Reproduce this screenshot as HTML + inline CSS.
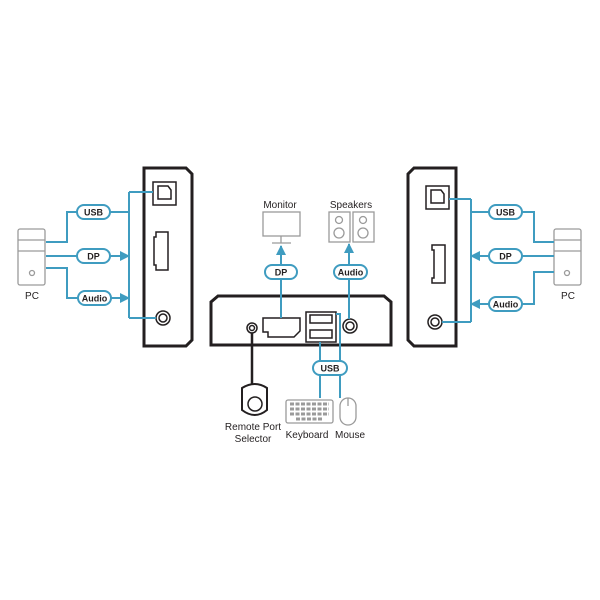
<!DOCTYPE html><html><head><style>body{margin:0;background:#fff}svg{display:block}text{font-family:"Liberation Sans",sans-serif}</style></head><body>
<svg width="600" height="600" viewBox="0 0 600 600" xmlns="http://www.w3.org/2000/svg">
<defs><marker id="a" markerWidth="10" markerHeight="10" refX="9" refY="5" orient="auto" markerUnits="userSpaceOnUse"><path d="M0,0 L10,5 L0,10z" fill="#3f9cc0"/></marker></defs>
<g fill="none" stroke="#231f20" stroke-width="3">
<path d="M144,168 H186 L192,174 V340 L186,346 H144 Z"/>
<path d="M456,168 H414 L408,174 V340 L414,346 H456 Z"/>
<path d="M211,345 V302 L218,296 H384 L391,302 V345 Z"/>
</g>
<g fill="none" stroke="#231f20" stroke-width="1.5">
<rect x="153" y="182" width="23" height="23"/><path d="M158,186 h10 l3,4 v9 h-13z"/>
<path d="M156,232 h12 v38 h-12 v-5 h-2 v-28 h2z"/>
<circle cx="163" cy="318" r="7"/><circle cx="163" cy="318" r="4"/>
<rect x="426" y="186" width="23" height="23"/><path d="M431,190 h10 l3,4 v9 h-13z"/>
<path d="M432,245 h13 v38 h-13 v-5 h2 v-28 h-2z"/>
<circle cx="435" cy="322" r="7"/><circle cx="435" cy="322" r="4"/>
<circle cx="252" cy="328" r="5"/><circle cx="252" cy="328" r="2.5"/>
<path d="M263,318 h37 v13 l-6,6 h-26 v-5 h-5z"/>
<rect x="306" y="312" width="30" height="30"/><rect x="310" y="315" width="22" height="8"/><rect x="310" y="330" width="22" height="8"/>
<circle cx="350" cy="326" r="7"/><circle cx="350" cy="326" r="4"/>
</g>
<path d="M252,333 V385" stroke="#231f20" stroke-width="2.5"/>
<path d="M242,388 Q255,380 267,388 V410 Q255,420 242,410Z" fill="#fff" stroke="#231f20" stroke-width="2"/>
<circle cx="255" cy="404" r="7" fill="#fff" stroke="#231f20" stroke-width="1.5"/>
<g fill="none" stroke="#9a9a9a" stroke-width="1.3">
<rect x="18" y="229" width="27" height="56" rx="2"/><path d="M18,240h27M18,251h27"/><circle cx="32" cy="273" r="2.5"/>
<rect x="554" y="229" width="27" height="56" rx="2"/><path d="M554,240h27M554,251h27"/><circle cx="567" cy="273" r="2.5"/>
<rect x="263" y="212" width="37" height="24"/><path d="M281,236v7M272,243h19"/>
<rect x="329" y="212" width="21" height="30"/><circle cx="339" cy="220" r="3.5"/><circle cx="339" cy="233" r="5"/>
<rect x="353" y="212" width="21" height="30"/><circle cx="363" cy="220" r="3.5"/><circle cx="363" cy="233" r="5"/>
<rect x="286" y="400" width="47" height="23" rx="2"/>
<path d="M290,404h39M290,409h39M290,414h39M296,419h27" stroke-width="3" stroke-dasharray="4 1.5"/>
<rect x="340" y="398" width="16" height="27" rx="8"/><path d="M348,398v8"/>
</g>
<g fill="none" stroke="#3f9cc0" stroke-width="2">
<path d="M129,192 V318 M129,192 H153 M129,318 H156"/>
<path d="M46,242 H67 V212 H129"/>
<path d="M46,256 H129" marker-end="url(#a)"/>
<path d="M46,268 H67 V298 H129" marker-end="url(#a)"/>
<path d="M471,199 V322 M449,199 H471 M442,322 H471"/>
<path d="M554,242 H534 V212 H471"/>
<path d="M554,256 H471" marker-end="url(#a)"/>
<path d="M554,272 H534 V304 H471" marker-end="url(#a)"/>
<path d="M281,318 V246" marker-end="url(#a)"/>
<path d="M349,319 V244" marker-end="url(#a)"/>
<path d="M320,342 V398 M336,314 H340 V398"/>
</g>
<g fill="#fff" stroke="#3f9cc0" stroke-width="2">
<rect x="77" y="205" width="33" height="14" rx="7"/><rect x="77" y="249" width="33" height="14" rx="7"/><rect x="78" y="291" width="33" height="14" rx="7"/>
<rect x="489" y="205" width="33" height="14" rx="7"/><rect x="489" y="249" width="33" height="14" rx="7"/><rect x="489" y="297" width="33" height="14" rx="7"/>
<rect x="265" y="265" width="32" height="14" rx="7"/><rect x="334" y="265" width="33" height="14" rx="7"/><rect x="313" y="361" width="34" height="14" rx="7"/>
</g>
<g font-size="9" font-weight="bold" fill="#231f20" text-anchor="middle">
<text x="93.5" y="215.5">USB</text><text x="93.5" y="259.5">DP</text><text x="94.5" y="301.5">Audio</text>
<text x="505.5" y="215.5">USB</text><text x="505.5" y="259.5">DP</text><text x="505.5" y="307.5">Audio</text>
<text x="281" y="275.5">DP</text><text x="350.5" y="275.5">Audio</text><text x="330" y="371.5">USB</text>
</g>
<g font-size="10" fill="#231f20" text-anchor="middle">
<text x="32" y="299">PC</text><text x="568" y="299">PC</text>
<text x="280" y="208">Monitor</text><text x="351" y="208">Speakers</text>
<text x="253" y="430">Remote Port</text><text x="253" y="442">Selector</text>
<text x="307" y="438">Keyboard</text><text x="350" y="438">Mouse</text>
</g>
</svg></body></html>
